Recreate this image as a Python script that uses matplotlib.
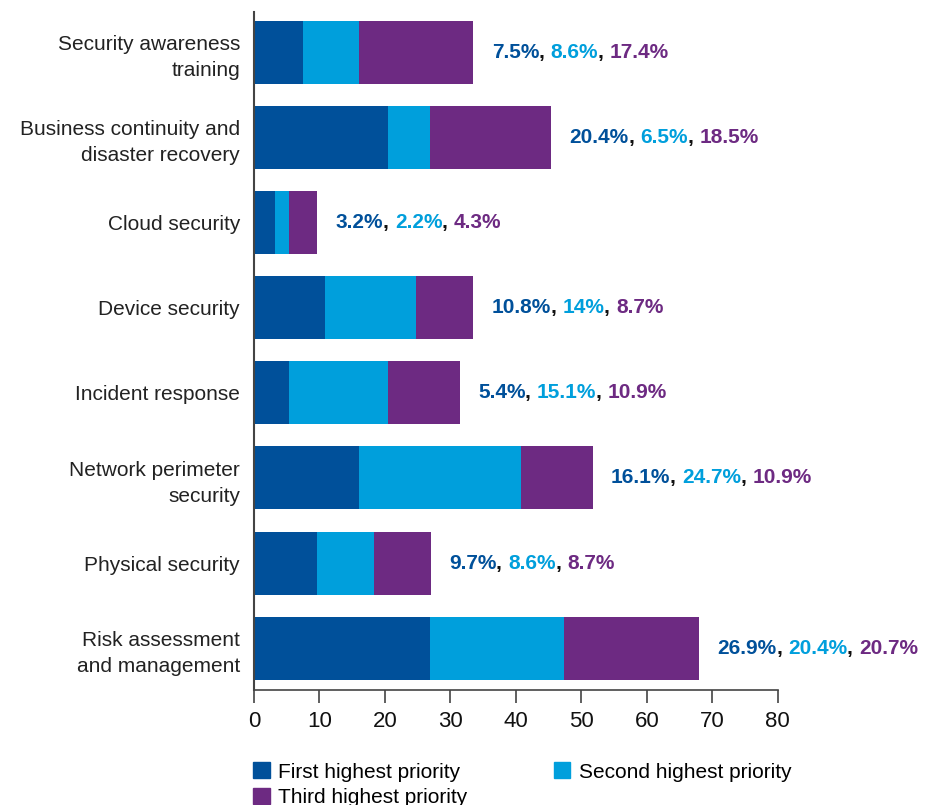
import matplotlib.pyplot as plt
from matplotlib.patches import Patch
from matplotlib.transforms import offset_copy

plt.rcParams["font.family"] = ["Liberation Sans", "DejaVu Sans"]

# Priority shares per security area (%)
categories = [
    "Security awareness\ntraining",
    "Business continuity and\ndisaster recovery",
    "Cloud security",
    "Device security",
    "Incident response",
    "Network perimeter\nsecurity",
    "Physical security",
    "Risk assessment\nand management",
]
first = [7.5, 20.4, 3.2, 10.8, 5.4, 16.1, 9.7, 26.9]
second = [8.6, 6.5, 2.2, 14, 15.1, 24.7, 8.6, 20.4]
third = [17.4, 18.5, 4.3, 8.7, 10.9, 10.9, 8.7, 20.7]
series_names = ["First highest priority", "Second highest priority", "Third highest priority"]

c1, c2, c3 = "#00509A", "#009FDC", "#6D2A82"
colors = [c1, c2, c3]

fig = plt.figure(figsize=(9.44, 8.05), dpi=100)
ax = fig.add_axes([0.269, 0.143, 0.555, 0.842])

y = list(range(len(categories)))
left = [0] * len(categories)
for vals, col, name in zip([first, second, third], colors, series_names):
    ax.barh(y, vals, left=left, height=0.74, color=col, label=name)
    left = [a + b for a, b in zip(left, vals)]

ax.set_ylim(7.49, -0.47)
ax.set_xlim(0, 80)
ax.set_xticks(range(0, 81, 10))
ax.set_yticks(y)
ax.set_yticklabels(categories, fontsize=15, color="#222222", ha="right")
for lbl in ax.get_yticklabels():
    lbl.set_linespacing(1.45)
ax.tick_params(axis="y", length=0, pad=10)
ax.tick_params(axis="x", length=9, width=1.2, color="#444444", labelsize=16, pad=6,
               labelcolor="#111111")
for s in ["top", "right"]:
    ax.spines[s].set_visible(False)
ax.spines["left"].set_color("#444444")
ax.spines["bottom"].set_color("#444444")
ax.spines["left"].set_linewidth(1.5)
ax.spines["bottom"].set_linewidth(1.2)

# Coloured value labels: "a%, b%, c%" drawn piece by piece
fig.canvas.draw()
renderer = fig.canvas.get_renderer()
for i in range(len(categories)):
    pieces = [
        (f"{first[i]:g}%", c1), (", ", "#111111"),
        (f"{second[i]:g}%", c2), (", ", "#111111"),
        (f"{third[i]:g}%", c3),
    ]
    x0 = left[i] + 2.8
    dx = 0
    for txt, col in pieces:
        tr = offset_copy(ax.transData, fig=fig, x=dx, y=0, units="dots")
        t = ax.text(x0, i, txt, color=col, fontsize=15, fontweight="bold",
                    va="center", ha="left", transform=tr)
        dx += t.get_window_extent(renderer).width

# column-first fill: First / Third in column one, Second in column two
order = [0, 2, 1]
handles = [Patch(color=colors[k]) for k in order]
labels = [series_names[k] for k in order]
fig.legend(handles, labels, loc="upper left", bbox_to_anchor=(0.268, 0.053),
           ncol=2, frameon=False, fontsize=15, handlelength=0.8, handleheight=0.8,
           handletextpad=0.4, columnspacing=4.15, labelspacing=0.3, borderaxespad=0,
           borderpad=0)

fig.savefig("out.png", dpi=100)
